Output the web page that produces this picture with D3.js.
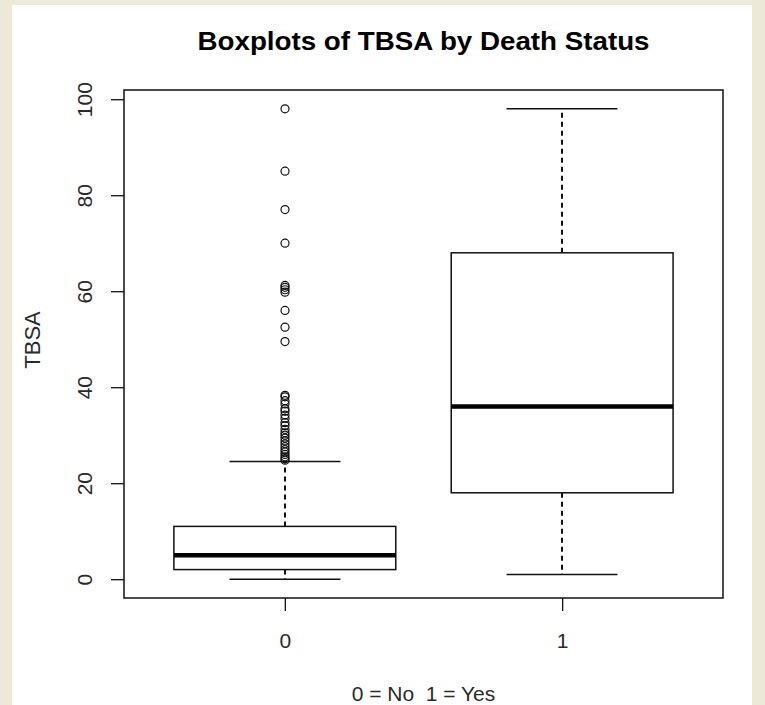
<!DOCTYPE html>
<html>
<head>
<meta charset="utf-8">
<script src="https://cdn.jsdelivr.net/npm/d3@7"></script>
<style>
  body { margin: 0; background: #ece9d8; }
  svg { display: block; font-family: "Liberation Sans", Arial, sans-serif; }
</style>
</head>
<body>
<div id="container"></div>
<script>
/* DATA */
const groups = ["0", "1"];
const q1 = [2, 18];
const medians = [5, 36];
const q3 = [11, 68];
const whiskLo = [0, 1];
const whiskHi = [24.5, 98];
const outliers0 = [98, 85, 77, 70, 61.2, 60.8, 60.3, 59.8, 56, 52.5, 49.5,
  38.3, 38, 37.2, 36.5, 35.5, 35, 34.2, 33.5, 32.6, 32, 31.2, 30.5, 30, 29.4,
  28.8, 28.2, 27.6, 27, 26.5, 26, 25.5, 25.1, 24.8];
const outliers1 = [];
const yTicks = [0, 20, 40, 60, 80, 100];

const W = 765, H = 705;
const margin = {top: 90, right: 42, bottom: 107, left: 124};

const svg = d3.select("#container").append("svg")
  .attr("width", W).attr("height", H);

// white page on the grey window frame
svg.append("rect").attr("x", 12).attr("y", 5).attr("width", 740).attr("height", H - 5)
  .attr("fill", "#fff");

const plotW = W - margin.left - margin.right;   // 599
const plotH = H - margin.top - margin.bottom;   // 508

/* SCALES (R style: 4% padding on each side) */
const allVals = whiskLo.concat(whiskHi, outliers0, outliers1);
const yMin = d3.min(allVals), yMax = d3.max(allVals);
const pad = (yMax - yMin) * 0.04;
const yScale = d3.scaleLinear()
  .domain([yMin - pad, yMax + pad])
  .range([margin.top + plotH, margin.top]);

const xPad = (2.5 - 0.5) * 0.04;
const xScale = d3.scaleLinear()
  .domain([0.5 - xPad, 2.5 + xPad])
  .range([margin.left, margin.left + plotW]);

const boxW = xScale(1.8) - xScale(1.0);     // boxwex 0.8
const ink = "#111";

const g = svg.append("g");

groups.forEach((name, i) => {
  const cx = Math.round(xScale(i + 1));
  const x0 = xScale(i + 1) - boxW / 2;
  // whiskers (dashed)
  g.append("line").attr("x1", cx).attr("x2", cx)
    .attr("y1", yScale(q3[i])).attr("y2", yScale(whiskHi[i]))
    .attr("stroke", ink).attr("stroke-width", 2).attr("stroke-dasharray", "5,4");
  g.append("line").attr("x1", cx).attr("x2", cx)
    .attr("y1", yScale(q1[i])).attr("y2", yScale(whiskLo[i]))
    .attr("stroke", ink).attr("stroke-width", 2).attr("stroke-dasharray", "5,4");
  // staples
  [whiskLo[i], whiskHi[i]].forEach(v => {
    g.append("line").attr("x1", cx - boxW / 4).attr("x2", cx + boxW / 4)
      .attr("y1", yScale(v)).attr("y2", yScale(v))
      .attr("stroke", ink).attr("stroke-width", 1.5);
  });
  // box
  g.append("rect").attr("x", x0).attr("width", boxW)
    .attr("y", yScale(q3[i])).attr("height", yScale(q1[i]) - yScale(q3[i]))
    .attr("fill", "#fff").attr("stroke", ink).attr("stroke-width", 1.5);
  // median
  g.append("line").attr("x1", x0).attr("x2", x0 + boxW)
    .attr("y1", yScale(medians[i])).attr("y2", yScale(medians[i]))
    .attr("stroke", "#000").attr("stroke-width", 4.5);
  // outliers
  const outs = i === 0 ? outliers0 : outliers1;
  g.selectAll(null).data(outs).join("circle")
    .attr("cx", cx).attr("cy", d => yScale(d)).attr("r", 4)
    .attr("fill", "none").attr("stroke", ink).attr("stroke-width", 1.2);
});

// frame
svg.append("rect").attr("x", margin.left).attr("y", margin.top)
  .attr("width", plotW).attr("height", plotH)
  .attr("fill", "none").attr("stroke", ink).attr("stroke-width", 1.5);

/* AXES */
const yAxis = svg.append("g")
  .attr("transform", `translate(${margin.left},0)`)
  .call(d3.axisLeft(yScale).tickValues(yTicks).tickSize(13).tickFormat(d3.format("d")));
yAxis.select(".domain").remove();
yAxis.selectAll("line").attr("stroke", ink).attr("stroke-width", 1.3);
yAxis.selectAll("text")
  .attr("transform", "rotate(-90)")
  .attr("x", 0).attr("y", -32).attr("dy", 0)
  .style("text-anchor", "middle")
  .attr("fill", "#2a2a2a").style("font-size", "21px");

const xAxis = svg.append("g")
  .attr("transform", `translate(0,${margin.top + plotH})`)
  .call(d3.axisBottom(xScale).tickValues([1, 2]).tickSize(13).tickPadding(22)
    .tickFormat(d => groups[d - 1]));
xAxis.select(".domain").remove();
xAxis.selectAll("line").attr("stroke", ink).attr("stroke-width", 1.3);
xAxis.selectAll("text").attr("fill", "#2a2a2a").style("font-size", "21px");

/* TITLES */
svg.append("text").attr("x", margin.left + plotW / 2).attr("y", 50)
  .attr("text-anchor", "middle").style("font-weight", "bold").style("font-size", "25px")
  .attr("textLength", 452).attr("lengthAdjust", "spacingAndGlyphs")
  .attr("fill", "#000").text("Boxplots of TBSA by Death Status");

svg.append("text").attr("transform", `translate(40,${margin.top + plotH / 2 - 4}) rotate(-90)`)
  .attr("text-anchor", "middle").style("font-size", "22px").attr("fill", "#2a2a2a")
  .text("TBSA");

svg.append("text").attr("x", margin.left + plotW / 2).attr("y", 701)
  .attr("text-anchor", "middle").style("font-size", "21px").attr("fill", "#2a2a2a")
  .attr("xml:space", "preserve").style("white-space", "pre")
  .text("0 = No  1 = Yes");
</script>
</body>
</html>
